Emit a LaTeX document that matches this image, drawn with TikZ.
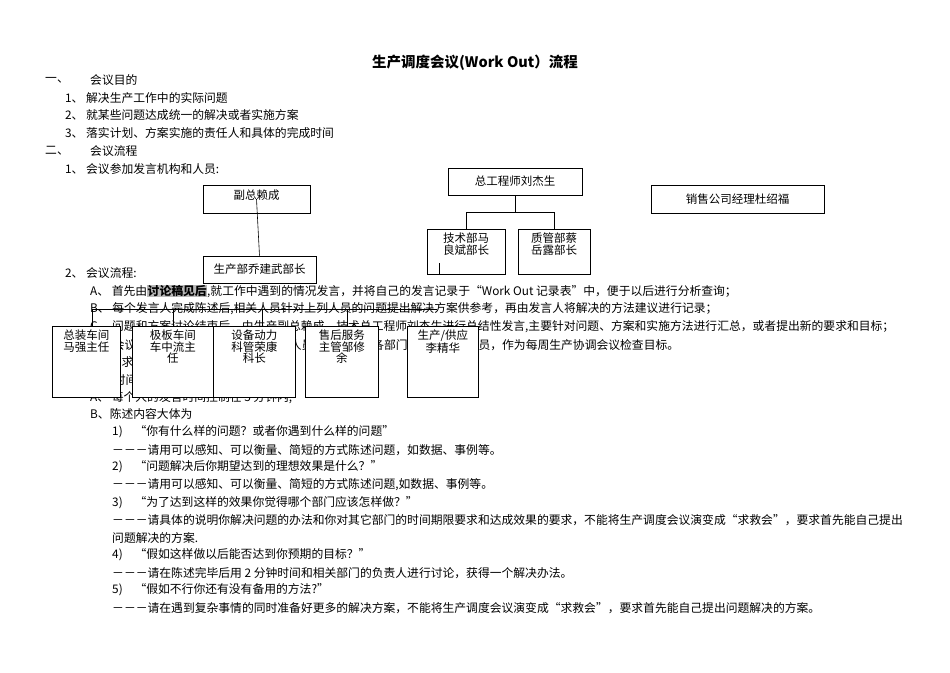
\documentclass[tikz,border=0pt]{standalone}
\usepackage{fontspec}
\setmainfont{Noto Sans CJK SC}
\begin{document}
\begin{tikzpicture}[x=1pt,y=-1pt,
  txt/.style={anchor=west,inner sep=0pt,font=\fontsize{11.8}{13}\selectfont},
  bx/.style={draw,fill=white,line width=0.6pt,font=\fontsize{11.5}{13}\selectfont,inner sep=1pt},
  lbl/.style={font=\fontsize{11.5}{11.5}\selectfont,align=center,anchor=north,inner sep=0pt},
  ln/.style={line width=0.6pt}]
\useasboundingbox (0,0) rectangle (950,672);
\node[font=\fontsize{14.5}{16}\bfseries\selectfont] (title) at (475,63) {生产调度会议(Work Out）流程};
\node[txt] (s1) at (45,80) {一、};
\node[txt] (s1t) at (90,80) {会议目的};
\node[txt] (l1) at (65,98) {1、 解决生产工作中的实际问题};
\node[txt] (l2) at (65,115) {2、 就某些问题达成统一的解决或者实施方案};
\node[txt] (l3) at (65,133) {3、 落实计划、方案实施的责任人和具体的完成时间};
\node[txt] (s2) at (45,151) {二、};
\node[txt] (s2t) at (90,151) {会议流程};
\node[txt] (l4) at (65,169) {1、 会议参加发言机构和人员:};
\node[txt] (l5) at (65,273) {2、 会议流程:};
\node[txt] (pa) at (90,291) {A、 首先由{\setlength{\fboxsep}{0.5pt}\colorbox{gray!55}{\bfseries 讨论稿见后}},就工作中遇到的情况发言，并将自己的发言记录于“Work Out 记录表”中，便于以后进行分析查询；};
\node[txt] (pb) at (90,309) {B、 每个发言人完成陈述后,相关人员针对上列人员的问题提出解决方案供参考，再由发言人将解决的方法建议进行记录；};
\node[txt] (pc) at (90,327) {C、 问题和方案讨论结束后，由生产副总赖成、技术总工程师刘杰生进行总结性发言,主要针对问题、方案和实施方法进行汇总，或者提出新的要求和目标；};
\node[txt] (pd) at (90,345) {D、 会议达成的解决方案和计划由记录人员整理后发给各部门和其它相关人员，作为每周生产协调会议检查目标。};
\node[txt] (l6) at (65,362) {3、 会议要求};
\node[txt] (pe) at (90,380) {发言时间及陈述应注意以下事项:};
\node[txt] (pf) at (90,398) {A、 每个人的发言时间控制在 5 分钟内;};
\node[txt] (pg) at (90,414) {B、陈述内容大体为};
\node[txt] (q1) at (112,432) {1)\quad “你有什么样的问题？或者你遇到什么样的问题”};
\node[txt] (a1) at (112,450) {－－－请用可以感知、可以衡量、简短的方式陈述问题，如数据、事例等。};
\node[txt] (q2) at (112,467) {2)\quad “问题解决后你期望达到的理想效果是什么？”};
\node[txt] (a2) at (112,485) {－－－请用可以感知、可以衡量、简短的方式陈述问题,如数据、事例等。};
\node[txt] (q3) at (112,503) {3)\quad “为了达到这样的效果你觉得哪个部门应该怎样做？”};
\node[txt] (a3) at (112,520) {－－－请具体的说明你解决问题的办法和你对其它部门的时间期限要求和达成效果的要求，不能将生产调度会议演变成“求救会”，要求首先能自己提出};
\node[txt] (a3b) at (112,538) {问题解决的方案.};
\node[txt] (q4) at (112,555) {4)\quad “假如这样做以后能否达到你预期的目标？”};
\node[txt] (a4) at (112,573) {－－－请在陈述完毕后用 2 分钟时间和相关部门的负责人进行讨论，获得一个解决办法。};
\node[txt] (q5) at (112,590) {5)\quad “假如不行你还有没有备用的方法?”};
\node[txt] (a5) at (112,608) {－－－请在遇到复杂事情的同时准备好更多的解决方案，不能将生产调度会议演变成“求救会”，要求首先能自己提出问题解决的方案。};
% upper org chart
\node[bx,minimum width=107,minimum height=28] (fz) at (256.5,199) {};
\node[bx,minimum width=113,minimum height=27] (scb) at (259.5,269.5) {生产部乔建武部长};
\node[bx,minimum width=134,minimum height=27] (zg) at (515,181.5) {总工程师刘杰生};
\node[bx,minimum width=173,minimum height=28] (xs) at (737.5,199) {销售公司经理杜绍福};
\node[bx,minimum width=78,minimum height=45,anchor=north] (js) at (466,229) {};
\node[bx,minimum width=72,minimum height=45,anchor=north] (zgb) at (554,229) {};
\node[lbl] (jst) at ([yshift=-4]js.north) {技术部马\\良斌部长};
\node[lbl] (zgt) at ([yshift=-4]zgb.north) {质管部蔡\\岳露部长};
\node[lbl] (fzt) at ([yshift=-5]fz.north) {副总赖成};
\draw[ln] (fz.center) -- (scb.north);
\draw[ln] (zg.south) -- (515,212) coordinate (j1);
\draw[ln] (j1 -| js.north) -- (j1 -| zgb.north);
\draw[ln] (j1 -| js.north) -- (js.north);
\draw[ln] (j1 -| zgb.north) -- (zgb.north);
\draw[ln] ([xshift=-27]js.south) -- ++(0,-12);
% lower boxes
\draw[ln] (92,309) coordinate (bl) -- (437,309) coordinate (br);
\foreach \n/\xa/\xb/\t in {b1/52/120/{总装车间\\马强主任}, b2/132/213/{极板车间\\车中流主\\任}, b3/213/295/{设备动力\\科管荣康\\科长}, b4/305/378/{售后服务\\主管邹修\\余}, b5/407/478/{生产/供应\\李精华}}{
  \node[bx,anchor=north west,minimum width=\xb-\xa,minimum height=71] (\n) at (\xa,326) {};
  \node[lbl] at ([yshift=-4]\n.north) {\t};
}
\draw[ln] (bl) -- (bl |- b1.north);
\draw[ln] (173,309) -- (173,326);
\draw[ln] (262,309) -- (262,326);
\draw[ln] (347,309) -- (347,326);
\end{tikzpicture}
\end{document}
